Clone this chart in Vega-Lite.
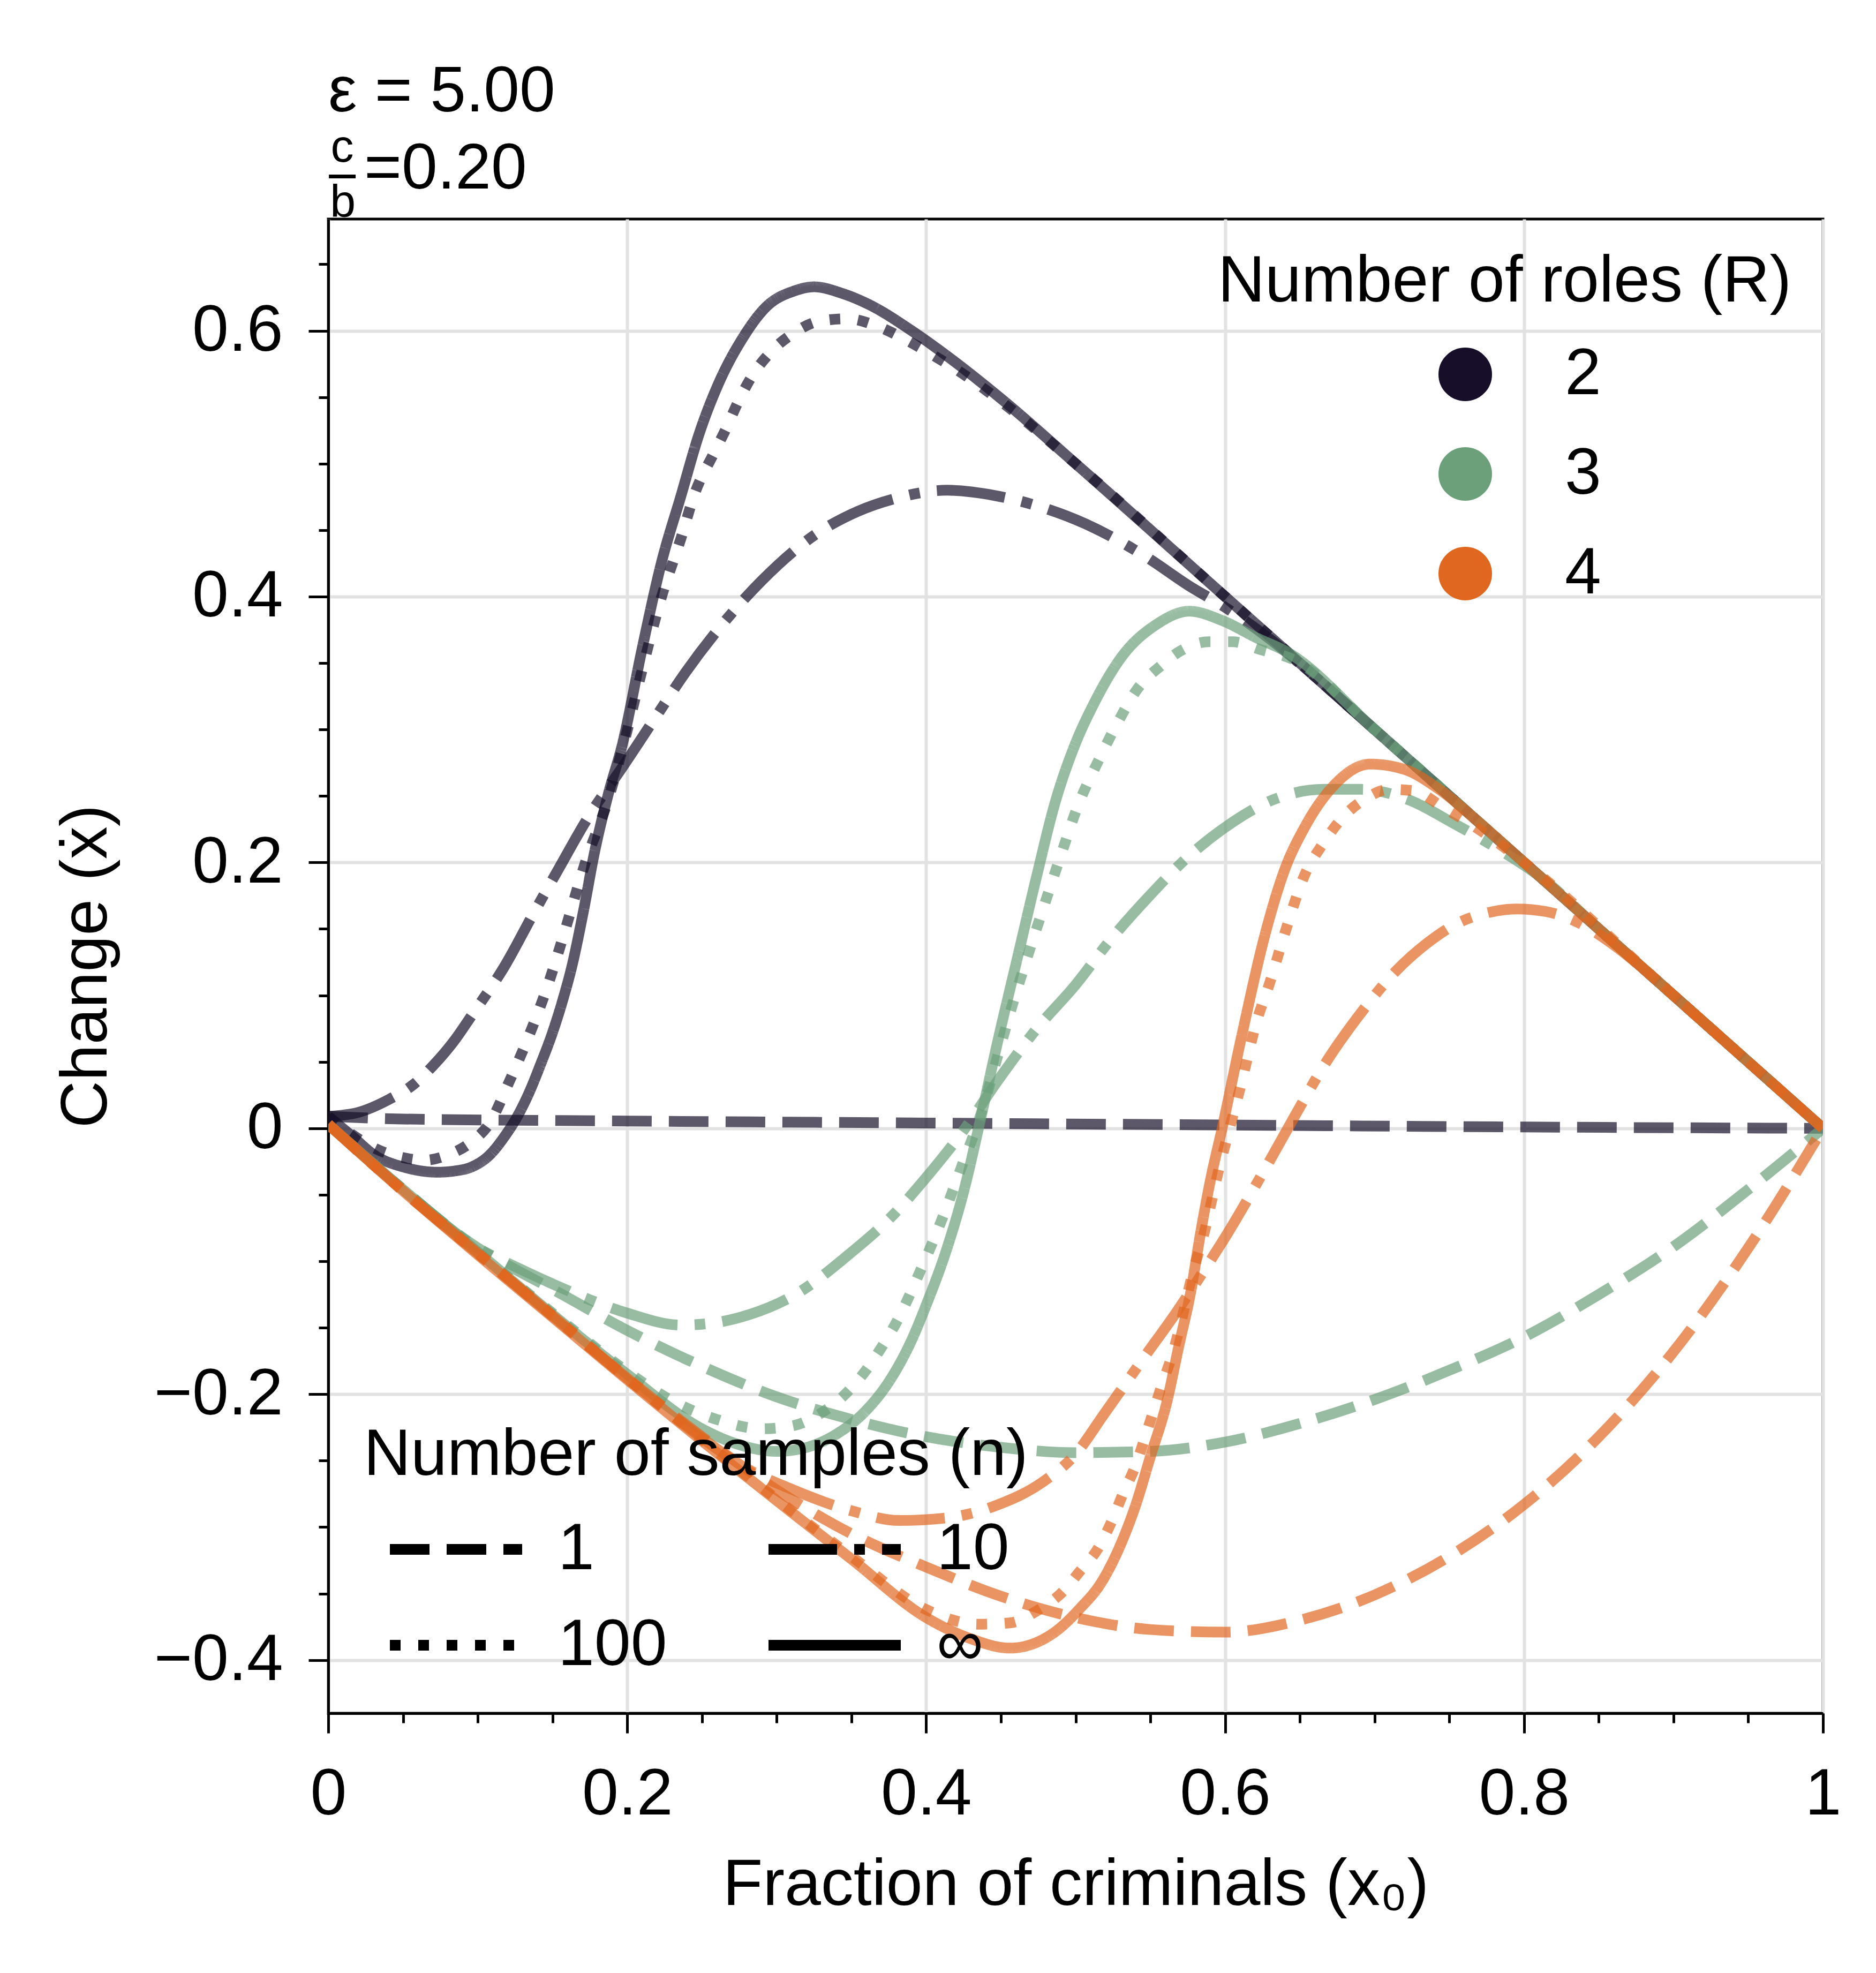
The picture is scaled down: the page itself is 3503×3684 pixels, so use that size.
{
  "$schema": "https://vega.github.io/schema/vega-lite/v6.json",
  "width": 2791,
  "height": 2790,
  "autosize": {"type": "none"},
  "padding": {"left": 613, "top": 409, "right": 99, "bottom": 485},
  "background": "white",
  "config": {
    "font": "Liberation Sans",
    "view": {"stroke": "black", "strokeWidth": 5},
    "axis": {
      "domainColor": "black", "domainWidth": 5,
      "tickColor": "black", "tickWidth": 5,
      "labelFont": "Liberation Sans", "labelFontSize": 122, "labelColor": "black", "labelLimit": 1000,
      "titleFont": "Liberation Sans", "titleFontSize": 122, "titleFontWeight": "normal", "titleColor": "black",
      "gridColor": "#e2e2e2", "gridWidth": 6,
      "labelOverlap": false, "labelFlush": false, "labelBound": false
    },
    "legend": {
      "titleFont": "Liberation Sans", "titleFontSize": 122, "titleFontWeight": "normal", "titleColor": "black",
      "labelFont": "Liberation Sans", "labelFontSize": 122, "labelColor": "black",
      "titleLimit": 3000, "labelLimit": 2000, "padding": 0
    }
  },
  "datasets": {
    "curves": [
      {"x":0,"y":0.009,"R":"2","n":"1"},{"x":0.05,"y":0.007,"R":"2","n":"1"},{"x":0.2,"y":0.0055,"R":"2","n":"1"},{"x":0.4,"y":0.004,"R":"2","n":"1"},{"x":0.6,"y":0.0025,"R":"2","n":"1"},{"x":0.8,"y":0.001,"R":"2","n":"1"},{"x":1,"y":0,"R":"2","n":"1"},

      {"x":0,"y":0.009,"R":"2","n":"10"},{"x":0.02,"y":0.012,"R":"2","n":"10"},{"x":0.041,"y":0.022,"R":"2","n":"10"},{"x":0.057,"y":0.033,"R":"2","n":"10"},{"x":0.07,"y":0.047,"R":"2","n":"10"},{"x":0.085,"y":0.067,"R":"2","n":"10"},{"x":0.096,"y":0.085,"R":"2","n":"10"},{"x":0.118,"y":0.122,"R":"2","n":"10"},{"x":0.137,"y":0.161,"R":"2","n":"10"},{"x":0.153,"y":0.193,"R":"2","n":"10"},{"x":0.175,"y":0.236,"R":"2","n":"10"},{"x":0.197,"y":0.272,"R":"2","n":"10"},{"x":0.22,"y":0.311,"R":"2","n":"10"},{"x":0.239,"y":0.343,"R":"2","n":"10"},{"x":0.268,"y":0.385,"R":"2","n":"10"},{"x":0.29,"y":0.412,"R":"2","n":"10"},{"x":0.325,"y":0.446,"R":"2","n":"10"},{"x":0.354,"y":0.464,"R":"2","n":"10"},{"x":0.38,"y":0.474,"R":"2","n":"10"},{"x":0.414,"y":0.48,"R":"2","n":"10"},{"x":0.446,"y":0.476,"R":"2","n":"10"},{"x":0.475,"y":0.468,"R":"2","n":"10"},{"x":0.506,"y":0.455,"R":"2","n":"10"},{"x":0.547,"y":0.43,"R":"2","n":"10"},{"x":0.576,"y":0.408,"R":"2","n":"10"},{"x":0.6,"y":0.392,"R":"2","n":"10"},{"x":0.63,"y":0.368,"R":"2","n":"10"},{"x":0.66,"y":0.34,"R":"2","n":"10"},{"x":0.7,"y":0.3,"R":"2","n":"10"},{"x":0.8,"y":0.2,"R":"2","n":"10"},{"x":0.9,"y":0.1,"R":"2","n":"10"},{"x":1,"y":0,"R":"2","n":"10"},

      {"x":0,"y":0.009,"R":"2","n":"100"},{"x":0.015,"y":-0.004,"R":"2","n":"100"},{"x":0.035,"y":-0.017,"R":"2","n":"100"},{"x":0.05,"y":-0.022,"R":"2","n":"100"},{"x":0.064,"y":-0.024,"R":"2","n":"100"},{"x":0.08,"y":-0.02,"R":"2","n":"100"},{"x":0.096,"y":-0.01,"R":"2","n":"100"},{"x":0.108,"y":0.004,"R":"2","n":"100"},{"x":0.121,"y":0.035,"R":"2","n":"100"},{"x":0.134,"y":0.069,"R":"2","n":"100"},{"x":0.147,"y":0.108,"R":"2","n":"100"},{"x":0.156,"y":0.14,"R":"2","n":"100"},{"x":0.172,"y":0.2,"R":"2","n":"100"},{"x":0.188,"y":0.25,"R":"2","n":"100"},{"x":0.199,"y":0.295,"R":"2","n":"100"},{"x":0.21,"y":0.345,"R":"2","n":"100"},{"x":0.223,"y":0.4,"R":"2","n":"100"},{"x":0.236,"y":0.444,"R":"2","n":"100"},{"x":0.245,"y":0.477,"R":"2","n":"100"},{"x":0.258,"y":0.508,"R":"2","n":"100"},{"x":0.266,"y":0.526,"R":"2","n":"100"},{"x":0.274,"y":0.546,"R":"2","n":"100"},{"x":0.283,"y":0.565,"R":"2","n":"100"},{"x":0.296,"y":0.584,"R":"2","n":"100"},{"x":0.311,"y":0.598,"R":"2","n":"100"},{"x":0.328,"y":0.607,"R":"2","n":"100"},{"x":0.347,"y":0.609,"R":"2","n":"100"},{"x":0.366,"y":0.604,"R":"2","n":"100"},{"x":0.385,"y":0.594,"R":"2","n":"100"},{"x":0.401,"y":0.584,"R":"2","n":"100"},{"x":0.42,"y":0.571,"R":"2","n":"100"},{"x":0.451,"y":0.546,"R":"2","n":"100"},{"x":0.5,"y":0.5,"R":"2","n":"100"},{"x":0.6,"y":0.4,"R":"2","n":"100"},{"x":0.7,"y":0.3,"R":"2","n":"100"},{"x":0.8,"y":0.2,"R":"2","n":"100"},{"x":0.9,"y":0.1,"R":"2","n":"100"},{"x":1,"y":0,"R":"2","n":"100"},

      {"x":0,"y":0.009,"R":"2","n":"∞"},{"x":0.015,"y":-0.005,"R":"2","n":"∞"},{"x":0.032,"y":-0.021,"R":"2","n":"∞"},{"x":0.05,"y":-0.029,"R":"2","n":"∞"},{"x":0.073,"y":-0.033,"R":"2","n":"∞"},{"x":0.085,"y":-0.032,"R":"2","n":"∞"},{"x":0.096,"y":-0.029,"R":"2","n":"∞"},{"x":0.108,"y":-0.02,"R":"2","n":"∞"},{"x":0.118,"y":-0.006,"R":"2","n":"∞"},{"x":0.126,"y":0.008,"R":"2","n":"∞"},{"x":0.134,"y":0.026,"R":"2","n":"∞"},{"x":0.142,"y":0.048,"R":"2","n":"∞"},{"x":0.15,"y":0.072,"R":"2","n":"∞"},{"x":0.157,"y":0.097,"R":"2","n":"∞"},{"x":0.163,"y":0.122,"R":"2","n":"∞"},{"x":0.171,"y":0.165,"R":"2","n":"∞"},{"x":0.178,"y":0.207,"R":"2","n":"∞"},{"x":0.187,"y":0.25,"R":"2","n":"∞"},{"x":0.197,"y":0.29,"R":"2","n":"∞"},{"x":0.21,"y":0.361,"R":"2","n":"∞"},{"x":0.223,"y":0.426,"R":"2","n":"∞"},{"x":0.236,"y":0.476,"R":"2","n":"∞"},{"x":0.248,"y":0.522,"R":"2","n":"∞"},{"x":0.261,"y":0.56,"R":"2","n":"∞"},{"x":0.277,"y":0.594,"R":"2","n":"∞"},{"x":0.293,"y":0.618,"R":"2","n":"∞"},{"x":0.312,"y":0.63,"R":"2","n":"∞"},{"x":0.325,"y":0.633,"R":"2","n":"∞"},{"x":0.344,"y":0.628,"R":"2","n":"∞"},{"x":0.363,"y":0.619,"R":"2","n":"∞"},{"x":0.389,"y":0.601,"R":"2","n":"∞"},{"x":0.414,"y":0.581,"R":"2","n":"∞"},{"x":0.45,"y":0.549,"R":"2","n":"∞"},{"x":0.5,"y":0.5,"R":"2","n":"∞"},{"x":0.6,"y":0.4,"R":"2","n":"∞"},{"x":0.7,"y":0.3,"R":"2","n":"∞"},{"x":0.8,"y":0.2,"R":"2","n":"∞"},{"x":0.9,"y":0.1,"R":"2","n":"∞"},{"x":1,"y":0,"R":"2","n":"∞"},

      {"x":0,"y":0.003,"R":"3","n":"1"},{"x":0.05,"y":-0.046,"R":"3","n":"1"},{"x":0.1,"y":-0.09,"R":"3","n":"1"},{"x":0.125,"y":-0.106,"R":"3","n":"1"},{"x":0.15,"y":-0.121,"R":"3","n":"1"},{"x":0.2,"y":-0.152,"R":"3","n":"1"},{"x":0.25,"y":-0.179,"R":"3","n":"1"},{"x":0.3,"y":-0.202,"R":"3","n":"1"},{"x":0.35,"y":-0.219,"R":"3","n":"1"},{"x":0.4,"y":-0.232,"R":"3","n":"1"},{"x":0.45,"y":-0.24,"R":"3","n":"1"},{"x":0.5,"y":-0.244,"R":"3","n":"1"},{"x":0.55,"y":-0.243,"R":"3","n":"1"},{"x":0.6,"y":-0.236,"R":"3","n":"1"},{"x":0.65,"y":-0.222,"R":"3","n":"1"},{"x":0.7,"y":-0.204,"R":"3","n":"1"},{"x":0.75,"y":-0.182,"R":"3","n":"1"},{"x":0.8,"y":-0.157,"R":"3","n":"1"},{"x":0.85,"y":-0.125,"R":"3","n":"1"},{"x":0.9,"y":-0.089,"R":"3","n":"1"},{"x":0.95,"y":-0.046,"R":"3","n":"1"},{"x":1,"y":0,"R":"3","n":"1"},

      {"x":0,"y":0.003,"R":"3","n":"10"},{"x":0.05,"y":-0.046,"R":"3","n":"10"},{"x":0.1,"y":-0.09,"R":"3","n":"10"},{"x":0.125,"y":-0.104,"R":"3","n":"10"},{"x":0.15,"y":-0.117,"R":"3","n":"10"},{"x":0.175,"y":-0.129,"R":"3","n":"10"},{"x":0.2,"y":-0.139,"R":"3","n":"10"},{"x":0.236,"y":-0.148,"R":"3","n":"10"},{"x":0.26,"y":-0.146,"R":"3","n":"10"},{"x":0.282,"y":-0.14,"R":"3","n":"10"},{"x":0.314,"y":-0.124,"R":"3","n":"10"},{"x":0.346,"y":-0.097,"R":"3","n":"10"},{"x":0.378,"y":-0.065,"R":"3","n":"10"},{"x":0.4,"y":-0.037,"R":"3","n":"10"},{"x":0.426,"y":0,"R":"3","n":"10"},{"x":0.448,"y":0.036,"R":"3","n":"10"},{"x":0.474,"y":0.075,"R":"3","n":"10"},{"x":0.5,"y":0.108,"R":"3","n":"10"},{"x":0.522,"y":0.14,"R":"3","n":"10"},{"x":0.547,"y":0.172,"R":"3","n":"10"},{"x":0.576,"y":0.205,"R":"3","n":"10"},{"x":0.602,"y":0.228,"R":"3","n":"10"},{"x":0.634,"y":0.248,"R":"3","n":"10"},{"x":0.666,"y":0.255,"R":"3","n":"10"},{"x":0.691,"y":0.255,"R":"3","n":"10"},{"x":0.723,"y":0.247,"R":"3","n":"10"},{"x":0.752,"y":0.23,"R":"3","n":"10"},{"x":0.78,"y":0.212,"R":"3","n":"10"},{"x":0.81,"y":0.19,"R":"3","n":"10"},{"x":0.85,"y":0.15,"R":"3","n":"10"},{"x":0.9,"y":0.1,"R":"3","n":"10"},{"x":0.95,"y":0.05,"R":"3","n":"10"},{"x":1,"y":0,"R":"3","n":"10"},

      {"x":0,"y":0.003,"R":"3","n":"100"},{"x":0.05,"y":-0.046,"R":"3","n":"100"},{"x":0.1,"y":-0.093,"R":"3","n":"100"},{"x":0.15,"y":-0.139,"R":"3","n":"100"},{"x":0.2,"y":-0.183,"R":"3","n":"100"},{"x":0.23,"y":-0.205,"R":"3","n":"100"},{"x":0.26,"y":-0.219,"R":"3","n":"100"},{"x":0.29,"y":-0.226,"R":"3","n":"100"},{"x":0.31,"y":-0.224,"R":"3","n":"100"},{"x":0.33,"y":-0.214,"R":"3","n":"100"},{"x":0.344,"y":-0.202,"R":"3","n":"100"},{"x":0.357,"y":-0.186,"R":"3","n":"100"},{"x":0.37,"y":-0.165,"R":"3","n":"100"},{"x":0.381,"y":-0.144,"R":"3","n":"100"},{"x":0.395,"y":-0.11,"R":"3","n":"100"},{"x":0.41,"y":-0.07,"R":"3","n":"100"},{"x":0.424,"y":-0.028,"R":"3","n":"100"},{"x":0.437,"y":0.012,"R":"3","n":"100"},{"x":0.448,"y":0.055,"R":"3","n":"100"},{"x":0.458,"y":0.094,"R":"3","n":"100"},{"x":0.468,"y":0.13,"R":"3","n":"100"},{"x":0.477,"y":0.161,"R":"3","n":"100"},{"x":0.49,"y":0.205,"R":"3","n":"100"},{"x":0.502,"y":0.244,"R":"3","n":"100"},{"x":0.515,"y":0.276,"R":"3","n":"100"},{"x":0.528,"y":0.305,"R":"3","n":"100"},{"x":0.541,"y":0.33,"R":"3","n":"100"},{"x":0.557,"y":0.348,"R":"3","n":"100"},{"x":0.57,"y":0.359,"R":"3","n":"100"},{"x":0.589,"y":0.366,"R":"3","n":"100"},{"x":0.605,"y":0.366,"R":"3","n":"100"},{"x":0.624,"y":0.36,"R":"3","n":"100"},{"x":0.645,"y":0.353,"R":"3","n":"100"},{"x":0.7,"y":0.3,"R":"3","n":"100"},{"x":0.8,"y":0.2,"R":"3","n":"100"},{"x":0.9,"y":0.1,"R":"3","n":"100"},{"x":1,"y":0,"R":"3","n":"100"},

      {"x":0,"y":0.003,"R":"3","n":"∞"},{"x":0.05,"y":-0.046,"R":"3","n":"∞"},{"x":0.1,"y":-0.093,"R":"3","n":"∞"},{"x":0.15,"y":-0.14,"R":"3","n":"∞"},{"x":0.2,"y":-0.185,"R":"3","n":"∞"},{"x":0.25,"y":-0.226,"R":"3","n":"∞"},{"x":0.275,"y":-0.238,"R":"3","n":"∞"},{"x":0.3,"y":-0.243,"R":"3","n":"∞"},{"x":0.32,"y":-0.24,"R":"3","n":"∞"},{"x":0.34,"y":-0.23,"R":"3","n":"∞"},{"x":0.36,"y":-0.212,"R":"3","n":"∞"},{"x":0.376,"y":-0.189,"R":"3","n":"∞"},{"x":0.39,"y":-0.16,"R":"3","n":"∞"},{"x":0.4,"y":-0.133,"R":"3","n":"∞"},{"x":0.414,"y":-0.09,"R":"3","n":"∞"},{"x":0.425,"y":-0.048,"R":"3","n":"∞"},{"x":0.436,"y":0.005,"R":"3","n":"∞"},{"x":0.448,"y":0.066,"R":"3","n":"∞"},{"x":0.461,"y":0.128,"R":"3","n":"∞"},{"x":0.474,"y":0.19,"R":"3","n":"∞"},{"x":0.486,"y":0.244,"R":"3","n":"∞"},{"x":0.499,"y":0.287,"R":"3","n":"∞"},{"x":0.512,"y":0.319,"R":"3","n":"∞"},{"x":0.531,"y":0.355,"R":"3","n":"∞"},{"x":0.554,"y":0.379,"R":"3","n":"∞"},{"x":0.576,"y":0.389,"R":"3","n":"∞"},{"x":0.598,"y":0.382,"R":"3","n":"∞"},{"x":0.621,"y":0.369,"R":"3","n":"∞"},{"x":0.642,"y":0.358,"R":"3","n":"∞"},{"x":0.7,"y":0.3,"R":"3","n":"∞"},{"x":0.8,"y":0.2,"R":"3","n":"∞"},{"x":0.9,"y":0.1,"R":"3","n":"∞"},{"x":1,"y":0,"R":"3","n":"∞"},

      {"x":0,"y":0.003,"R":"4","n":"1"},{"x":0.05,"y":-0.047,"R":"4","n":"1"},{"x":0.1,"y":-0.094,"R":"4","n":"1"},{"x":0.15,"y":-0.141,"R":"4","n":"1"},{"x":0.2,"y":-0.188,"R":"4","n":"1"},{"x":0.25,"y":-0.232,"R":"4","n":"1"},{"x":0.3,"y":-0.272,"R":"4","n":"1"},{"x":0.35,"y":-0.305,"R":"4","n":"1"},{"x":0.4,"y":-0.33,"R":"4","n":"1"},{"x":0.45,"y":-0.352,"R":"4","n":"1"},{"x":0.5,"y":-0.368,"R":"4","n":"1"},{"x":0.55,"y":-0.377,"R":"4","n":"1"},{"x":0.6,"y":-0.379,"R":"4","n":"1"},{"x":0.65,"y":-0.37,"R":"4","n":"1"},{"x":0.7,"y":-0.351,"R":"4","n":"1"},{"x":0.75,"y":-0.322,"R":"4","n":"1"},{"x":0.8,"y":-0.283,"R":"4","n":"1"},{"x":0.85,"y":-0.232,"R":"4","n":"1"},{"x":0.9,"y":-0.168,"R":"4","n":"1"},{"x":0.95,"y":-0.09,"R":"4","n":"1"},{"x":1,"y":0,"R":"4","n":"1"},

      {"x":0,"y":0.003,"R":"4","n":"10"},{"x":0.05,"y":-0.047,"R":"4","n":"10"},{"x":0.1,"y":-0.094,"R":"4","n":"10"},{"x":0.15,"y":-0.141,"R":"4","n":"10"},{"x":0.2,"y":-0.188,"R":"4","n":"10"},{"x":0.25,"y":-0.233,"R":"4","n":"10"},{"x":0.28,"y":-0.256,"R":"4","n":"10"},{"x":0.309,"y":-0.271,"R":"4","n":"10"},{"x":0.351,"y":-0.288,"R":"4","n":"10"},{"x":0.382,"y":-0.295,"R":"4","n":"10"},{"x":0.414,"y":-0.293,"R":"4","n":"10"},{"x":0.446,"y":-0.284,"R":"4","n":"10"},{"x":0.478,"y":-0.266,"R":"4","n":"10"},{"x":0.5,"y":-0.245,"R":"4","n":"10"},{"x":0.519,"y":-0.215,"R":"4","n":"10"},{"x":0.546,"y":-0.172,"R":"4","n":"10"},{"x":0.567,"y":-0.139,"R":"4","n":"10"},{"x":0.591,"y":-0.098,"R":"4","n":"10"},{"x":0.6,"y":-0.082,"R":"4","n":"10"},{"x":0.627,"y":-0.03,"R":"4","n":"10"},{"x":0.646,"y":0.008,"R":"4","n":"10"},{"x":0.666,"y":0.047,"R":"4","n":"10"},{"x":0.691,"y":0.087,"R":"4","n":"10"},{"x":0.714,"y":0.118,"R":"4","n":"10"},{"x":0.736,"y":0.14,"R":"4","n":"10"},{"x":0.755,"y":0.154,"R":"4","n":"10"},{"x":0.775,"y":0.162,"R":"4","n":"10"},{"x":0.795,"y":0.165,"R":"4","n":"10"},{"x":0.815,"y":0.163,"R":"4","n":"10"},{"x":0.834,"y":0.156,"R":"4","n":"10"},{"x":0.86,"y":0.138,"R":"4","n":"10"},{"x":0.88,"y":0.12,"R":"4","n":"10"},{"x":0.9,"y":0.1,"R":"4","n":"10"},{"x":0.95,"y":0.05,"R":"4","n":"10"},{"x":1,"y":0,"R":"4","n":"10"},

      {"x":0,"y":0.003,"R":"4","n":"100"},{"x":0.05,"y":-0.047,"R":"4","n":"100"},{"x":0.1,"y":-0.094,"R":"4","n":"100"},{"x":0.15,"y":-0.141,"R":"4","n":"100"},{"x":0.2,"y":-0.188,"R":"4","n":"100"},{"x":0.25,"y":-0.234,"R":"4","n":"100"},{"x":0.3,"y":-0.279,"R":"4","n":"100"},{"x":0.35,"y":-0.322,"R":"4","n":"100"},{"x":0.4,"y":-0.362,"R":"4","n":"100"},{"x":0.435,"y":-0.373,"R":"4","n":"100"},{"x":0.456,"y":-0.372,"R":"4","n":"100"},{"x":0.474,"y":-0.363,"R":"4","n":"100"},{"x":0.491,"y":-0.349,"R":"4","n":"100"},{"x":0.503,"y":-0.333,"R":"4","n":"100"},{"x":0.515,"y":-0.316,"R":"4","n":"100"},{"x":0.524,"y":-0.296,"R":"4","n":"100"},{"x":0.532,"y":-0.274,"R":"4","n":"100"},{"x":0.54,"y":-0.254,"R":"4","n":"100"},{"x":0.546,"y":-0.234,"R":"4","n":"100"},{"x":0.552,"y":-0.213,"R":"4","n":"100"},{"x":0.558,"y":-0.192,"R":"4","n":"100"},{"x":0.565,"y":-0.169,"R":"4","n":"100"},{"x":0.57,"y":-0.148,"R":"4","n":"100"},{"x":0.579,"y":-0.106,"R":"4","n":"100"},{"x":0.585,"y":-0.083,"R":"4","n":"100"},{"x":0.596,"y":-0.03,"R":"4","n":"100"},{"x":0.603,"y":0,"R":"4","n":"100"},{"x":0.61,"y":0.03,"R":"4","n":"100"},{"x":0.621,"y":0.08,"R":"4","n":"100"},{"x":0.63,"y":0.11,"R":"4","n":"100"},{"x":0.64,"y":0.147,"R":"4","n":"100"},{"x":0.653,"y":0.19,"R":"4","n":"100"},{"x":0.666,"y":0.215,"R":"4","n":"100"},{"x":0.678,"y":0.233,"R":"4","n":"100"},{"x":0.694,"y":0.248,"R":"4","n":"100"},{"x":0.71,"y":0.255,"R":"4","n":"100"},{"x":0.726,"y":0.254,"R":"4","n":"100"},{"x":0.745,"y":0.242,"R":"4","n":"100"},{"x":0.771,"y":0.224,"R":"4","n":"100"},{"x":0.8,"y":0.2,"R":"4","n":"100"},{"x":0.9,"y":0.1,"R":"4","n":"100"},{"x":1,"y":0,"R":"4","n":"100"},

      {"x":0,"y":0.003,"R":"4","n":"∞"},{"x":0.05,"y":-0.047,"R":"4","n":"∞"},{"x":0.1,"y":-0.095,"R":"4","n":"∞"},{"x":0.15,"y":-0.142,"R":"4","n":"∞"},{"x":0.2,"y":-0.189,"R":"4","n":"∞"},{"x":0.25,"y":-0.235,"R":"4","n":"∞"},{"x":0.3,"y":-0.28,"R":"4","n":"∞"},{"x":0.35,"y":-0.324,"R":"4","n":"∞"},{"x":0.4,"y":-0.368,"R":"4","n":"∞"},{"x":0.43,"y":-0.384,"R":"4","n":"∞"},{"x":0.456,"y":-0.391,"R":"4","n":"∞"},{"x":0.486,"y":-0.379,"R":"4","n":"∞"},{"x":0.503,"y":-0.361,"R":"4","n":"∞"},{"x":0.517,"y":-0.342,"R":"4","n":"∞"},{"x":0.532,"y":-0.308,"R":"4","n":"∞"},{"x":0.54,"y":-0.284,"R":"4","n":"∞"},{"x":0.55,"y":-0.247,"R":"4","n":"∞"},{"x":0.561,"y":-0.206,"R":"4","n":"∞"},{"x":0.569,"y":-0.164,"R":"4","n":"∞"},{"x":0.577,"y":-0.123,"R":"4","n":"∞"},{"x":0.584,"y":-0.076,"R":"4","n":"∞"},{"x":0.59,"y":-0.04,"R":"4","n":"∞"},{"x":0.598,"y":0,"R":"4","n":"∞"},{"x":0.611,"y":0.069,"R":"4","n":"∞"},{"x":0.627,"y":0.147,"R":"4","n":"∞"},{"x":0.64,"y":0.195,"R":"4","n":"∞"},{"x":0.653,"y":0.226,"R":"4","n":"∞"},{"x":0.672,"y":0.257,"R":"4","n":"∞"},{"x":0.697,"y":0.274,"R":"4","n":"∞"},{"x":0.72,"y":0.27,"R":"4","n":"∞"},{"x":0.742,"y":0.256,"R":"4","n":"∞"},{"x":0.771,"y":0.229,"R":"4","n":"∞"},{"x":0.8,"y":0.2,"R":"4","n":"∞"},{"x":0.9,"y":0.1,"R":"4","n":"∞"},{"x":1,"y":0,"R":"4","n":"∞"}
    ],
    "titleA": [{"t": "ε = 5.00"}],
    "titleC": [{"t": "c"}],
    "titleB": [{"t": "b"}],
    "titleEq": [{"t": "=0.20"}],
    "bar": [{"k": 1}]
  },
  "layer": [
    {
      "data": {"name": "curves"},
      "mark": {"type": "line", "strokeCap": "butt", "interpolate": "monotone", "clip": true, "color": "black"},
      "encoding": {
        "x": {
          "field": "x", "type": "quantitative",
          "scale": {"domain": [0, 1], "nice": false, "zero": false},
          "axis": {
            "title": "Fraction of criminals (x₀)",
            "values": [0,0.05,0.1,0.15,0.2,0.25,0.3,0.35,0.4,0.45,0.5,0.55,0.6,0.65,0.7,0.75,0.8,0.85,0.9,0.95,1],
            "labelExpr": "abs(datum.value*5 - round(datum.value*5)) < 0.001 ? format(datum.value, '~g') : ''",
            "tickSize": {"condition": {"test": "abs(datum.value*5 - round(datum.value*5)) < 0.001", "value": 37}, "value": 18},
            "gridOpacity": {"condition": {"test": "abs(datum.value*5 - round(datum.value*5)) < 0.001", "value": 1}, "value": 0},
            "labelPadding": 55,
            "titlePadding": 61
          }
        },
        "y": {
          "field": "y", "type": "quantitative",
          "scale": {"domain": [-0.44, 0.684], "nice": false, "zero": false},
          "axis": {
            "title": "Change (ẋ)",
            "values": [-0.4,-0.35,-0.3,-0.25,-0.2,-0.15,-0.1,-0.05,0,0.05,0.1,0.15,0.2,0.25,0.3,0.35,0.4,0.45,0.5,0.55,0.6,0.65],
            "labelExpr": "abs(datum.value*5 - round(datum.value*5)) < 0.001 ? format(datum.value, '~g') : ''",
            "tickSize": {"condition": {"test": "abs(datum.value*5 - round(datum.value*5)) < 0.001", "value": 37}, "value": 18},
            "gridOpacity": {"condition": {"test": "abs(datum.value*5 - round(datum.value*5)) < 0.001", "value": 1}, "value": 0},
            "labelPadding": 48,
            "titlePadding": 189
          }
        },
        "color": {
          "field": "R", "type": "nominal",
          "scale": {"domain": ["2", "3", "4"], "range": ["#170f29", "#6ba07a", "#e0671f"]},
          "legend": {
            "title": "Number of roles (R)",
            "orient": "top-right", "offset": 58,
            "symbolType": "circle", "symbolSize": 2500, "symbolStrokeWidth": 50, "symbolOpacity": 1,
            "symbolOffset": 401, "labelOffset": 125,
            "titlePadding": 49, "rowPadding": -68
          }
        },
        "strokeDash": {
          "field": "n", "type": "nominal",
          "scale": {"domain": ["1", "100", "10", "∞"], "range": [[74, 32], [20, 33], [128, 32, 20, 32], [1, 0]]},
          "legend": {
            "title": "Number of samples (n)",
            "orient": "bottom-left", "offset": 66, "columns": 2,
            "symbolType": "stroke", "symbolSize": 61000, "symbolStrokeWidth": 20, "symbolStrokeColor": "black", "symbolOpacity": 1,
            "symbolOffset": 39, "labelOffset": 57, "clipHeight": 122,
            "titlePadding": 52, "rowPadding": 57, "columnPadding": 140
          }
        },
        "detail": {"field": "n"},
        "strokeWidth": {"value": 20},
        "strokeOpacity": {"value": 0.7}
      }
    },
    {
      "data": {"name": "titleA"},
      "mark": {"type": "text", "align": "left", "baseline": "alphabetic", "fontSize": 120, "font": "Liberation Sans", "color": "black"},
      "encoding": {"text": {"field": "t"}, "x": {"datum": 0, "type": "quantitative"}, "y": {"datum": 0.765, "type": "quantitative"}}
    },
    {
      "data": {"name": "titleC"},
      "mark": {"type": "text", "align": "center", "baseline": "alphabetic", "fontSize": 86, "font": "Liberation Sans", "color": "black"},
      "encoding": {"text": {"field": "t"}, "x": {"datum": 0.0093, "type": "quantitative"}, "y": {"datum": 0.727, "type": "quantitative"}}
    },
    {
      "data": {"name": "bar"},
      "mark": {"type": "rule", "strokeWidth": 7, "color": "black"},
      "encoding": {"x": {"datum": 0.0004, "type": "quantitative"}, "x2": {"datum": 0.0183}, "y": {"datum": 0.716, "type": "quantitative"}}
    },
    {
      "data": {"name": "titleB"},
      "mark": {"type": "text", "align": "center", "baseline": "alphabetic", "fontSize": 86, "font": "Liberation Sans", "color": "black"},
      "encoding": {"text": {"field": "t"}, "x": {"datum": 0.0097, "type": "quantitative"}, "y": {"datum": 0.6856, "type": "quantitative"}}
    },
    {
      "data": {"name": "titleEq"},
      "mark": {"type": "text", "align": "left", "baseline": "alphabetic", "fontSize": 120, "font": "Liberation Sans", "color": "black"},
      "encoding": {"text": {"field": "t"}, "x": {"datum": 0.024, "type": "quantitative"}, "y": {"datum": 0.707, "type": "quantitative"}}
    }
  ]
}
